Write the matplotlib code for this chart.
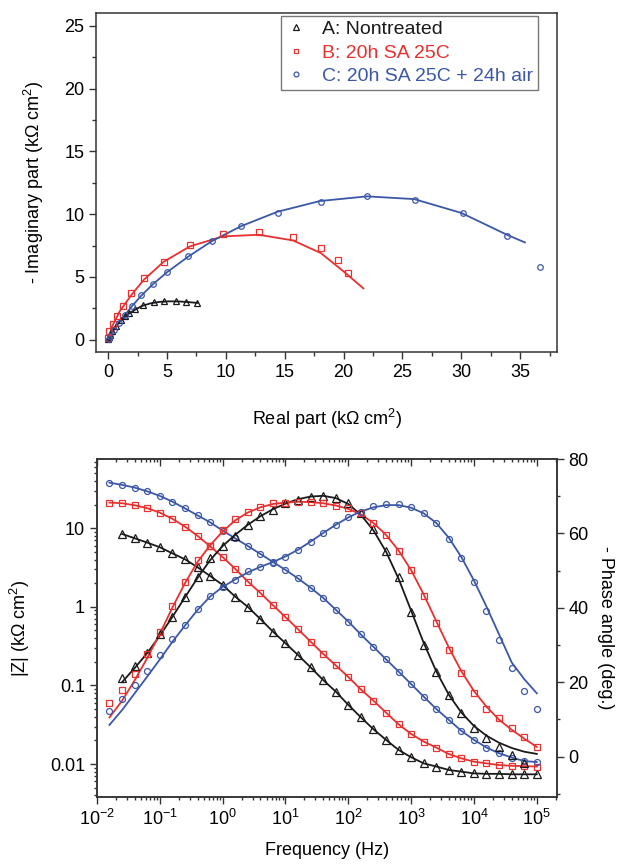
import numpy as np
import matplotlib
matplotlib.use('Agg')
import matplotlib.pyplot as plt
from matplotlib.ticker import MultipleLocator, LogLocator, NullFormatter, FixedLocator, FixedFormatter
from matplotlib.lines import Line2D

plt.rcParams['font.family'] = ['Liberation Sans', 'DejaVu Sans']
plt.rcParams['mathtext.fontset'] = 'custom'
plt.rcParams['mathtext.rm'] = 'Liberation Sans'
plt.rcParams['mathtext.it'] = 'Liberation Sans:italic'
plt.rcParams['mathtext.bf'] = 'Liberation Sans:bold'

BLACK = '#1a1a1a'
RED = '#e8302f'
BLUE = '#3b57a8'
AXC = '#333333'

labels = ['A: Nontreated', 'B: 20h SA 25C', 'C: 20h SA 25C + 24h air']

# ---------------- Nyquist data (kOhm cm2) ----------------
A_re = [0.02, 0.05, 0.13, 0.34, 0.68, 1.05, 1.42, 1.78, 2.30, 2.98, 3.92, 4.78, 5.72, 6.60, 7.52]
A_im = [0.03, 0.21, 0.35, 0.66, 1.11, 1.54, 1.86, 2.12, 2.42, 2.80, 3.00, 3.08, 3.05, 2.98, 2.95]
A_fit_re = [0.0, 0.10, 0.30, 0.65, 1.00, 1.40, 1.80, 2.30, 2.90, 3.60, 4.40, 5.20, 6.00, 6.80, 7.60]
A_fit_im = [0.0, 0.25, 0.60, 1.05, 1.45, 1.80, 2.10, 2.40, 2.70, 2.90, 3.02, 3.06, 3.05, 3.00, 2.93]

B_re = [0.02, 0.11, 0.39, 0.76, 1.27, 1.97, 3.05, 4.71, 6.93, 9.74, 12.8, 15.7, 18.07, 19.5, 20.34]
B_im = [0.10, 0.66, 1.27, 1.93, 2.70, 3.71, 4.91, 6.18, 7.51, 8.41, 8.55, 8.17, 7.32, 6.34, 5.31]
B_fit_re = [0.0, 0.30, 1.00, 2.00, 3.00, 4.70, 6.93, 9.74, 12.8, 15.7, 18.07, 20.0, 21.68]
B_fit_im = [0.0, 1.00, 2.30, 3.60, 4.75, 6.20, 7.43, 8.23, 8.36, 7.91, 6.90, 5.44, 4.09]

C_re = [0.05, 0.19, 0.47, 0.90, 1.41, 2.03, 2.82, 3.78, 5.00, 6.80, 8.80, 11.27, 14.39, 18.07, 21.98, 26.10, 30.11, 33.89, 36.70]
C_im = [0.08, 0.32, 0.80, 1.33, 1.99, 2.70, 3.53, 4.43, 5.36, 6.65, 7.86, 9.08, 10.08, 10.99, 11.44, 11.15, 10.06, 8.23, 5.76]
C_fit_re = [0.0, 0.20, 0.50, 0.90, 1.40, 2.00, 2.80, 3.80, 5.00, 6.80, 8.80, 11.3, 14.4, 18.0, 22.0, 26.0, 30.0, 33.9, 35.4]
C_fit_im = [0.0, 0.40, 0.85, 1.35, 1.95, 2.65, 3.50, 4.42, 5.38, 6.62, 7.85, 9.05, 10.2, 11.05, 11.42, 11.20, 10.10, 8.35, 7.75]

# ---------------- Bode data ----------------
freq = [0.0158, 0.0251, 0.0398, 0.0631, 0.1, 0.158, 0.251, 0.398, 0.631, 1.0,
        1.58, 2.51, 3.98, 6.31, 10, 15.8, 25.1, 39.8, 63.1, 100,
        158, 251, 398, 631, 1000, 1580, 2510, 3980, 6310, 10000,
        15800, 25100, 39800, 63100, 100000]
freq_A = freq[1:]

A_Z = [8.46, 7.45, 6.56, 5.73, 4.80, 4.03, 3.19, 2.47, 1.90, 1.35,
       1.00, 0.70, 0.484, 0.344, 0.244, 0.170, 0.117, 0.0835, 0.0565, 0.0394,
       0.0277, 0.0203, 0.0151, 0.0122, 0.0102, 0.0093, 0.0084, 0.0080, 0.0076, 0.0075,
       0.0075, 0.0074, 0.0074, 0.0074]
A_ph = [21.2, 24.3, 27.9, 32.9, 37.6, 43.0, 48.2, 53.3, 56.6, 59.3,
        62.2, 64.7, 66.3, 68.1, 69.1, 69.9, 70.0, 69.4, 68.1, 65.5,
        61.3, 55.3, 48.2, 38.9, 30.0, 22.6, 16.5, 11.6, 7.8, 5.1,
        2.6, 0.4, -1.8, np.nan]
A_ph_fit = [20.0, 23.8, 27.8, 32.5, 37.5, 42.8, 48.0, 52.8, 56.6, 59.6,
            62.3, 64.6, 66.5, 68.0, 69.2, 69.9, 70.1, 69.5, 67.9, 65.0,
            60.8, 55.1, 47.8, 39.2, 30.6, 22.9, 16.6, 11.8, 8.2, 5.6,
            3.7, 2.3, 1.3, 0.7]

B_Z = [21.2, 20.8, 19.6, 18.0, 15.8, 13.2, 10.5, 8.0, 5.9, 4.3,
       3.05, 2.1, 1.5, 1.05, 0.74, 0.52, 0.361, 0.252, 0.180, 0.128,
       0.089, 0.0641, 0.0451, 0.0320, 0.0241, 0.0193, 0.0162, 0.0134, 0.0118, 0.0107,
       0.0102, 0.0097, 0.0095, 0.0094, 0.0093]
B_ph = [14.5, 17.9, 22.1, 27.5, 33.6, 40.5, 47.0, 52.8, 56.6, 60.9,
        63.8, 65.8, 67.2, 68.1, 68.3, 68.5, 68.4, 68.1, 67.4, 66.8,
        65.5, 62.7, 59.5, 55.2, 50.1, 43.1, 35.8, 28.6, 22.4, 17.2,
        12.9, 10.3, 7.6, 5.3, 2.6]
B_ph_fit = [10.5, 15.0, 20.5, 26.5, 33.0, 40.0, 46.6, 52.3, 56.8, 60.5,
            63.5, 65.6, 67.0, 67.9, 68.3, 68.5, 68.4, 68.1, 67.5, 66.6,
            65.1, 62.8, 59.6, 55.4, 50.1, 43.6, 36.4, 29.3, 22.9, 17.6,
            13.4, 9.9, 7.2, 4.8, 2.6]

C_Z = [38.0, 35.6, 32.9, 29.5, 25.8, 21.8, 17.9, 14.6, 11.9, 9.33,
       7.45, 5.95, 4.71, 3.72, 2.95, 2.30, 1.75, 1.30, 0.92, 0.65,
       0.445, 0.31, 0.215, 0.150, 0.104, 0.0721, 0.0502, 0.0364, 0.0264, 0.0203,
       0.0162, 0.0137, 0.0121, 0.0109, 0.0106]
C_ph = [12.3, 15.4, 19.2, 23.1, 27.3, 31.5, 35.5, 39.6, 43.1, 45.5,
        47.4, 49.9, 51.0, 52.1, 53.7, 55.5, 57.8, 60.0, 62.2, 64.5,
        65.8, 67.3, 67.8, 67.8, 67.0, 65.6, 62.7, 58.6, 53.3, 46.8,
        39.2, 31.3, 23.9, 17.6, 12.7]
C_ph_fit = [8.5, 12.5, 17.0, 21.5, 26.1, 30.8, 35.2, 39.4, 43.0, 45.6,
            47.6, 49.5, 51.0, 52.3, 53.8, 55.6, 57.8, 60.1, 62.3, 64.3,
            65.9, 67.0, 67.6, 67.6, 66.9, 65.4, 62.8, 58.8, 53.6, 47.3,
            40.3, 32.8, 25.3, 20.8, 17.0]

z_ticks = [0.01, 0.1, 1, 10]
z_ticklabels = ['0.01', '0.1', '1', '10']
f_ticks = [1e-2, 1e-1, 1e0, 1e1, 1e2, 1e3, 1e4, 1e5]
f_ticklabels = ['$10^{-2}$', '$10^{-1}$', '$10^{0}$', '$10^{1}$', '$10^{2}$',
                '$10^{3}$', '$10^{4}$', '$10^{5}$']
ph_ticks = [0, 20, 40, 60, 80]

W, H = 618, 866
fig = plt.figure(figsize=(W / 100, H / 100), dpi=100)

FS = 13
LW = 1.3
mkw = dict(linestyle='none', markerfacecolor='none', markeredgewidth=0.9)

# ---------------- Top: Nyquist ----------------
l, r, t, b = 96.4, 556.7, 13.3, 352.3
ax1 = fig.add_axes([l / W, 1 - b / H, (r - l) / W, (b - t) / H])
ax1.plot(A_fit_re, A_fit_im, color=BLACK, lw=LW)
ax1.plot(B_fit_re, B_fit_im, color=RED, lw=LW)
ax1.plot(C_fit_re, C_fit_im, color=BLUE, lw=LW)
ax1.plot(A_re, A_im, marker='^', ms=5.0, color=BLACK, markeredgecolor=BLACK, **mkw)
ax1.plot(B_re, B_im, marker='s', ms=3.8, color=RED, markeredgecolor=RED, **mkw)
ax1.plot(C_re, C_im, marker='o', ms=4.0, color=BLUE, markeredgecolor=BLUE, **mkw)
ax1.set_xlim(-1.0, 38.1)
ax1.set_ylim(-1.0, 26.0)
ax1.xaxis.set_major_locator(MultipleLocator(5))
ax1.xaxis.set_minor_locator(MultipleLocator(2.5))
ax1.yaxis.set_major_locator(MultipleLocator(5))
ax1.yaxis.set_minor_locator(MultipleLocator(2.5))
ax1.tick_params(which='both', direction='out', top=False, right=False,
                labelsize=FS, color=AXC, width=1.0)
ax1.tick_params(which='major', length=5)
ax1.tick_params(which='minor', length=3)
for s in ax1.spines.values():
    s.set_color(AXC)
    s.set_linewidth(1.1)
ax1.set_xlabel('Real part (k\u03a9 cm$^2$)', fontsize=FS)
ax1.set_ylabel('- Imaginary part (k\u03a9 cm$^2$)', fontsize=FS)
ax1.xaxis.set_label_coords(0.5, -0.160)
ax1.yaxis.set_label_coords(-0.110, 0.5)

handles = [Line2D([], [], marker='^', ms=4.5, color=BLACK, markeredgecolor=BLACK, **mkw),
           Line2D([], [], marker='s', ms=3.5, color=RED, markeredgecolor=RED, **mkw),
           Line2D([], [], marker='o', ms=3.5, color=BLUE, markeredgecolor=BLUE, **mkw)]
leg = ax1.legend(handles, labels, loc='upper left', bbox_to_anchor=(0.401, 0.993),
                 borderaxespad=0, fontsize=14, frameon=True, fancybox=False,
                 handlelength=1.0, handletextpad=0.85, labelspacing=0.30,
                 borderpad=0.25)
leg.get_frame().set_edgecolor('#555555')
leg.get_frame().set_linewidth(1.0)
for txt, c in zip(leg.get_texts(), [BLACK, RED, BLUE]):
    txt.set_color(c)

# ---------------- Bottom: Bode ----------------
l, r, t, b = 96.7, 556.7, 459.0, 796.7
ax2 = fig.add_axes([l / W, 1 - b / H, (r - l) / W, (b - t) / H])
ax3 = ax2.twinx()

ax2.set_xscale('log')
ax2.set_yscale('log')
ax2.plot(freq_A, A_Z, color=BLACK, lw=LW)
ax2.plot(freq, B_Z, color=RED, lw=LW)
ax2.plot(freq, C_Z, color=BLUE, lw=LW)
ax2.plot(freq_A, A_Z, marker='^', ms=5.5, color=BLACK, markeredgecolor=BLACK, **mkw)
ax2.plot(freq, B_Z, marker='s', ms=4.0, color=RED, markeredgecolor=RED, **mkw)
ax2.plot(freq, C_Z, marker='o', ms=4.3, color=BLUE, markeredgecolor=BLUE, **mkw)

ax3.plot(freq_A, A_ph_fit, color=BLACK, lw=LW)
ax3.plot(freq, B_ph_fit, color=RED, lw=LW)
ax3.plot(freq, C_ph_fit, color=BLUE, lw=LW)
ax3.plot(freq_A, A_ph, marker='^', ms=5.5, color=BLACK, markeredgecolor=BLACK, **mkw)
ax3.plot(freq, B_ph, marker='s', ms=4.0, color=RED, markeredgecolor=RED, **mkw)
ax3.plot(freq, C_ph, marker='o', ms=4.3, color=BLUE, markeredgecolor=BLUE, **mkw)

ax2.set_xlim(0.0099, 2.07e5)
ax2.set_ylim(0.00384, 76)
ax3.set_ylim(-10.8, 80.0)

ax2.xaxis.set_major_locator(FixedLocator(f_ticks))
ax2.xaxis.set_major_formatter(FixedFormatter(f_ticklabels))
ax2.xaxis.set_minor_locator(LogLocator(base=10, subs=np.arange(2, 10), numticks=20))
ax2.xaxis.set_minor_formatter(NullFormatter())
ax2.yaxis.set_major_locator(FixedLocator(z_ticks))
ax2.yaxis.set_major_formatter(FixedFormatter(z_ticklabels))
ax2.yaxis.set_minor_locator(LogLocator(base=10, subs=np.arange(2, 10), numticks=20))
ax2.yaxis.set_minor_formatter(NullFormatter())
ax2.tick_params(which='both', direction='out', labelsize=FS, color=AXC, width=1.0,
                top=False, right=False)
ax2.tick_params(which='major', length=5)
ax2.tick_params(which='minor', length=2.5)
ax2.tick_params(axis='x', which='major', pad=4)

sec = ax2.secondary_xaxis('top')
sec.xaxis.set_major_locator(FixedLocator(f_ticks))
sec.xaxis.set_minor_locator(LogLocator(base=10, subs=np.arange(2, 10), numticks=20))
sec.xaxis.set_major_formatter(NullFormatter())
sec.xaxis.set_minor_formatter(NullFormatter())
sec.tick_params(which='both', direction='in', color=AXC, width=1.0)
sec.tick_params(which='major', length=5)
sec.tick_params(which='minor', length=2.5)
sec.spines['top'].set_visible(False)

ax3.yaxis.set_major_locator(FixedLocator(ph_ticks))
ax3.yaxis.set_minor_locator(MultipleLocator(10))
ax3.tick_params(which='both', direction='out', labelsize=FS, color=AXC, width=1.0)
ax3.tick_params(which='major', length=5)
ax3.tick_params(which='minor', length=2.5)

for a in (ax2, ax3):
    for s in a.spines.values():
        s.set_color(AXC)
        s.set_linewidth(1.1)

ax2.set_xlabel('Frequency (Hz)', fontsize=FS)
ax2.set_ylabel('|Z| (k\u03a9 cm$^2$)', fontsize=FS)
ax3.set_ylabel('- Phase angle (deg.)', fontsize=FS, rotation=270)
ax2.xaxis.set_label_coords(0.5, -0.134)
ax2.yaxis.set_label_coords(-0.141, 0.5)
ax3.yaxis.set_label_coords(1.125, 0.5)

fig.savefig('out.png', dpi=100)
